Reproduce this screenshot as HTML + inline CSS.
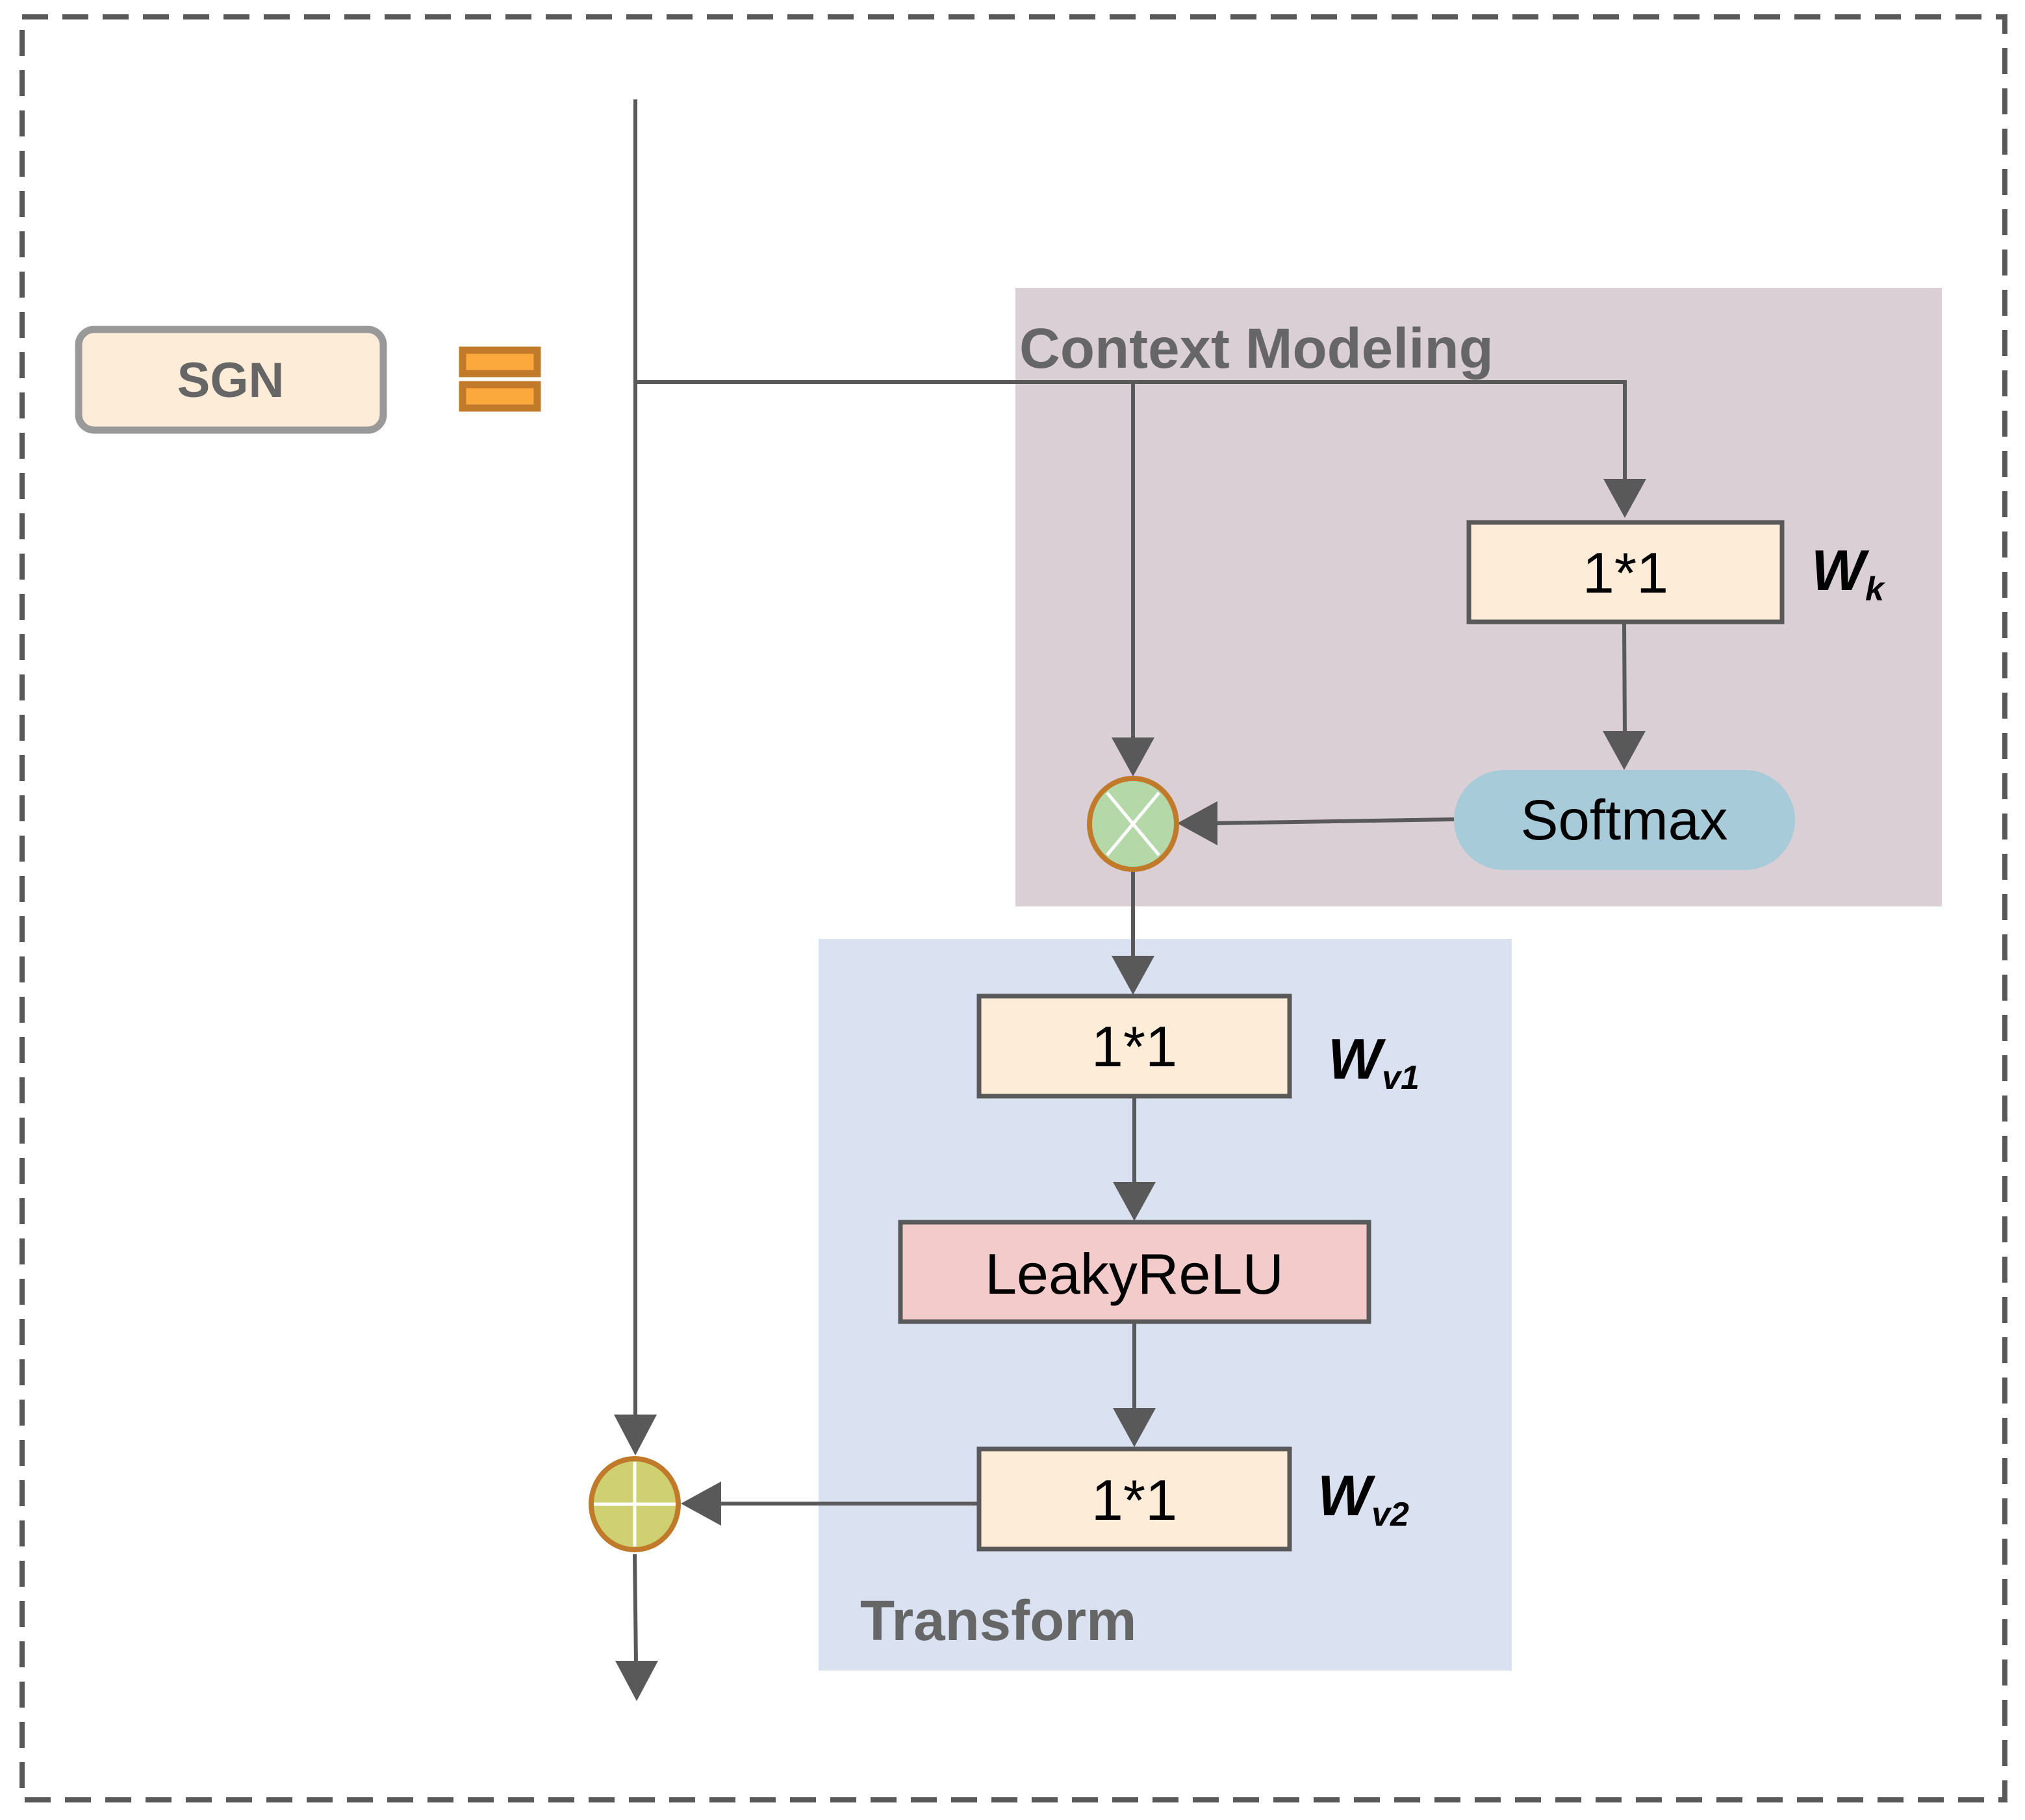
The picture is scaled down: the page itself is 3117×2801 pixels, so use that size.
<!DOCTYPE html>
<html><head><meta charset="utf-8"><style>
html,body{margin:0;padding:0;background:#fff;}
svg{display:block;}
text{font-family:"Liberation Sans",Arial,sans-serif;}
</style></head><body>
<svg width="3117" height="2801" viewBox="0 0 3117 2801" xmlns="http://www.w3.org/2000/svg">
<!-- outer dashed border -->
<rect x="34" y="26" width="3052" height="2744" fill="none" stroke="#595959" stroke-width="8" stroke-dasharray="40,22"/>

<!-- region boxes -->
<rect x="1563" y="443" width="1426" height="952" fill="#dbcfd6"/>
<rect x="1260" y="1445" width="1067" height="1126" fill="#dae2f2"/>

<text x="1569" y="566" font-size="87" font-weight="bold" fill="#666">Context Modeling</text>
<text x="1324" y="2524" font-size="87" font-weight="bold" fill="#666">Transform</text>

<!-- SGN -->
<rect x="121" y="507" width="469" height="155" rx="24" fill="#fdecd8" stroke="#999" stroke-width="11"/>
<text x="355" y="611" font-size="76" font-weight="bold" fill="#666" text-anchor="middle">SGN</text>
<rect x="712" y="539" width="115" height="36" fill="#fba83d" stroke="#c07a2a" stroke-width="11"/>
<rect x="712" y="592" width="115" height="36" fill="#fba83d" stroke="#c07a2a" stroke-width="11"/>

<g stroke="#595959" stroke-width="6" fill="none">
<line x1="978" y1="153" x2="978" y2="2180"/>
<polyline points="978,588 2501,588 2501,740"/>
<line x1="1744" y1="588" x2="1744" y2="1140"/>
<line x1="2500" y1="956" x2="2501" y2="1130"/>
<line x1="2238" y1="1261" x2="1870" y2="1267"/>
<line x1="1744" y1="1338" x2="1744" y2="1475"/>
<line x1="1746" y1="1688" x2="1746" y2="1822"/>
<line x1="1746" y1="2034" x2="1746" y2="2170"/>
<line x1="1505" y1="2314" x2="1100" y2="2314"/>
<line x1="977" y1="2392" x2="979" y2="2560"/>
</g>
<g fill="#595959">
<polygon points="2468,737 2534,737 2501,797"/>
<polygon points="1711,1135 1777,1135 1744,1195"/>
<polygon points="2467,1125 2533,1125 2500,1185"/>
<polygon points="1874,1233 1874,1301 1812,1267"/>
<polygon points="1711,1471 1777,1471 1744,1531"/>
<polygon points="1713,1819 1779,1819 1746,1879"/>
<polygon points="1713,2167 1779,2167 1746,2227"/>
<polygon points="945,2177 1011,2177 978,2240"/>
<polygon points="1110,2280 1110,2348 1048,2314"/>
<polygon points="947,2556 1013,2556 980,2618"/>
</g>

<!-- Wk -->
<rect x="2261" y="804" width="482" height="153" fill="#fdecd8" stroke="#595959" stroke-width="7"/>
<text x="2502" y="912" font-size="88" fill="#000" text-anchor="middle">1*1</text>
<text x="2788" y="908" font-size="88" font-weight="bold" font-style="italic" fill="#000">W<tspan font-size="52" dy="16">k</tspan></text>

<!-- Softmax -->
<rect x="2238" y="1185" width="525" height="154" rx="77" fill="#a8cbd9"/>
<text x="2500" y="1292" font-size="87" fill="#000" text-anchor="middle">Softmax</text>

<!-- multiply -->
<ellipse cx="1744" cy="1268" rx="67" ry="70" fill="#b5d8a8" stroke="#c07a2a" stroke-width="8"/>
<g stroke="#fff" stroke-width="5">
<line x1="1704" y1="1220" x2="1784" y2="1316"/>
<line x1="1784" y1="1220" x2="1704" y2="1316"/>
</g>

<!-- Wv1 -->
<rect x="1507" y="1533" width="478" height="154" fill="#fdecd8" stroke="#595959" stroke-width="7"/>
<text x="1746" y="1641" font-size="88" fill="#000" text-anchor="middle">1*1</text>
<text x="2044" y="1660" font-size="88" font-weight="bold" font-style="italic" fill="#000">W<tspan font-size="52" dy="16">v1</tspan></text>

<!-- LeakyReLU -->
<rect x="1386" y="1881" width="721" height="153" fill="#f3cbcb" stroke="#595959" stroke-width="7"/>
<text x="1746" y="1991" font-size="88" fill="#000" text-anchor="middle">LeakyReLU</text>

<!-- Wv2 -->
<rect x="1507" y="2230" width="478" height="154" fill="#fdecd8" stroke="#595959" stroke-width="7"/>
<text x="1746" y="2339" font-size="88" fill="#000" text-anchor="middle">1*1</text>
<text x="2028" y="2332" font-size="88" font-weight="bold" font-style="italic" fill="#000">W<tspan font-size="52" dy="16">v2</tspan></text>

<!-- plus -->
<ellipse cx="977" cy="2315" rx="67" ry="70" fill="#cfd072" stroke="#c07a2a" stroke-width="8"/>
<g stroke="#fff" stroke-width="5">
<line x1="977" y1="2250" x2="977" y2="2380"/>
<line x1="914" y1="2315" x2="1040" y2="2315"/>
</g>
</svg>
</body></html>
